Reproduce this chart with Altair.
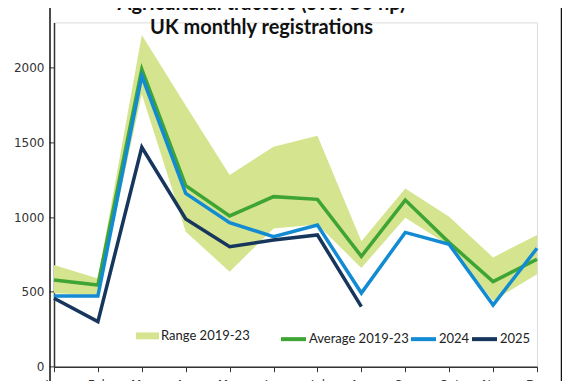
import altair as alt
import pandas as pd

months = ["Jan", "Feb", "Mar", "Apr", "May", "Jun", "Jul", "Aug", "Sep", "Oct", "Nov", "Dec"]
range_low = [490, 479, 1820, 902, 635, 924, 950, 659, 995, 810, 440, 618]
range_high = [679, 590, 2216, 1745, 1281, 1470, 1543, 838, 1191, 1002, 730, 880]
avg_2019_23 = [579, 546, 1987, 1209, 1007, 1136, 1118, 737, 1113, 829, 568, 718]
y2024 = [472, 472, 1942, 1158, 962, 869, 947, 492, 897, 817, 412, 791]
y2025 = [457, 301, 1466, 987, 802, 846, 880, 401]

series_names = ["Average 2019-23", "2024", "2025"]
series_colors = ["#3ea434", "#138bd3", "#17365d"]
band_color = "#d5e48e"

range_df = pd.DataFrame({"month": months, "low": range_low, "high": range_high,
                         "label": ["Range 2019-23"] * len(months)})
rows = []
for name, vals in zip(series_names, [avg_2019_23, y2024, y2025]):
    for m, v in zip(months, vals):
        rows.append({"month": m, "value": v, "series": name})
line_df = pd.DataFrame(rows)

xenc = alt.X("month:N", sort=months, scale=alt.Scale(type="point", padding=0),
             axis=alt.Axis(title=None, labelAngle=0, tickSize=5, labelPadding=8,
                           domainColor="#333333", tickColor="#333333", domainWidth=1.5,
                           labelFont="DejaVu Sans", labelFontSize=12, labelColor="#333333"))
ydom = alt.Scale(domain=[0, 2300], nice=False)

band = alt.Chart(range_df).mark_area(opacity=1).encode(
    x=xenc,
    y=alt.Y("low:Q", scale=ydom,
            axis=alt.Axis(title=None, values=[0, 500, 1000, 1500, 2000], format="d", grid=False,
                          tickSize=5, labelPadding=5, domainColor="#333333", tickColor="#333333",
                          domainWidth=1.5, labelFont="DejaVu Sans", labelFontSize=12,
                          labelColor="#333333")),
    y2="high:Q",
    fill=alt.Fill("label:N", scale=alt.Scale(domain=["Range 2019-23"], range=[band_color]),
                  legend=alt.Legend(title=None, orient="none", legendX=82, legendY=302,
                                    direction="horizontal",
                                    symbolType="M-1,-0.3H1V0.3H-1Z", symbolSize=529,
                                    symbolStrokeWidth=0, symbolOpacity=1,
                                    labelFont="Lato", labelFontSize=13, labelColor="#222222",
                                    labelOffset=2)),
)

lines = alt.Chart(line_df).mark_line(strokeWidth=3.5, strokeJoin="miter").encode(
    x=alt.X("month:N", sort=months),
    y=alt.Y("value:Q", scale=ydom),
    stroke=alt.Stroke("series:N", sort=series_names,
                      scale=alt.Scale(domain=series_names, range=series_colors),
                      legend=alt.Legend(title=None, orient="none", legendX=225, legendY=302,
                                        direction="horizontal", symbolType="stroke",
                                        symbolSize=625, symbolStrokeWidth=4,
                                        columnPadding=-8, labelOffset=1,
                                        labelFont="Lato", labelFontSize=13,
                                        labelColor="#222222")),
)

frame_df = pd.DataFrame({"k": [0]})
frame_left = alt.Chart(frame_df).mark_rule(color="#111111", strokeWidth=1.5).encode(
    x=alt.value(-4), y=alt.value(-14.4), y2=alt.value(360))
frame_right = alt.Chart(frame_df).mark_rule(color="#111111", strokeWidth=1.5).encode(
    x=alt.value(507.5), y=alt.value(-14.4), y2=alt.value(360))

chart = alt.layer(band, lines, frame_left, frame_right).resolve_scale(
    fill="independent", stroke="independent"
).properties(
    width=483, height=344.3,
    title=alt.TitleParams(["Agricultural tractors (over 50 hp)", "UK monthly registrations"],
                          font="Lato", fontSize=20, fontWeight="bold", color="#111111",
                          anchor="middle", dx=-34, offset=-31, lineHeight=24),
    autosize=alt.AutoSizeParams(type="none"),
    padding={"left": 46, "top": 14.4, "right": 25, "bottom": 14.3},
).configure_view(stroke=None).configure(background="white")

chart.save("out.html", embed_options={"renderer": "svg", "actions": False})
